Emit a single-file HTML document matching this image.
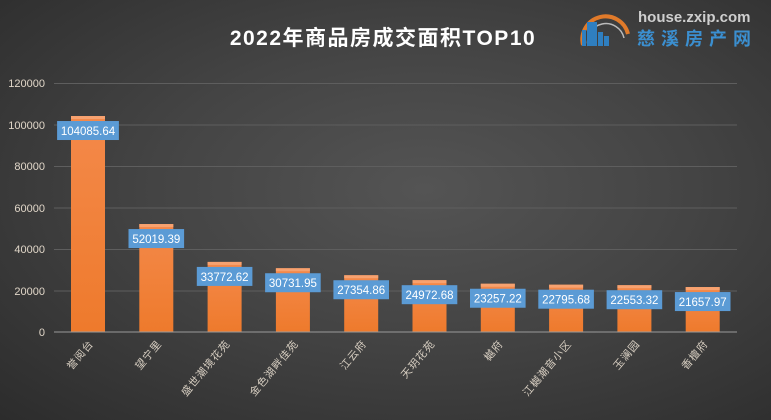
<!DOCTYPE html>
<html><head><meta charset="utf-8"><style>
html,body{margin:0;padding:0;width:771px;height:420px;overflow:hidden}
body{background:radial-gradient(ellipse at 55% 45%,#545454 0%,#444 45%,#2c2c2c 100%);font-family:"Liberation Sans","Noto Sans CJK SC",sans-serif}
</style></head><body>
<svg width="771" height="420" xmlns="http://www.w3.org/2000/svg" style="position:absolute;left:0;top:0">
<defs><linearGradient id="bg" x1="0" y1="0" x2="0" y2="1"><stop offset="0" stop-color="#f4894a"/><stop offset="1" stop-color="#ee7a2c"/></linearGradient></defs>
<text x="383" y="45" fill="#fff" font-size="21" font-weight="bold" letter-spacing="1.5" text-anchor="middle" font-family="Liberation Sans,Noto Sans CJK SC,sans-serif">2022年商品房成交面积TOP10</text>
<g stroke="#5e5e5e" stroke-width="1">
<line x1="54" x2="737" y1="83.5" y2="83.5"/><line x1="54" x2="737" y1="125" y2="125"/><line x1="54" x2="737" y1="166.5" y2="166.5"/><line x1="54" x2="737" y1="208" y2="208"/><line x1="54" x2="737" y1="249.5" y2="249.5"/><line x1="54" x2="737" y1="291" y2="291"/>
</g>
<g fill="#e0d6c8" font-size="11" text-anchor="end">
<text x="45" y="87">120000</text><text x="45" y="129">100000</text><text x="45" y="170">80000</text><text x="45" y="212">60000</text><text x="45" y="253">40000</text><text x="45" y="295">20000</text><text x="45" y="336">0</text>
</g>
<g id="bars"></g>
<line x1="54" x2="737" y1="332" y2="332" stroke="#9a9a9a" stroke-width="1"/>
<path d="M583 45 A22 22 0 0 1 628 34" fill="none" stroke="#e07a2a" stroke-width="4"/>
<path d="M588 46 A18 18 0 0 1 624 38" fill="none" stroke="#bbb" stroke-width="1.5"/>
<rect x="582" y="30" width="4" height="16" fill="#2f7fc0"/><rect x="587" y="22" width="10" height="24" fill="#2f7fc0"/><rect x="598" y="32" width="5" height="14" fill="#2f7fc0"/><rect x="604" y="36" width="5" height="10" fill="#2f7fc0"/>
<text x="638" y="22" fill="#cfcfcf" font-size="15" font-weight="bold">house.zxip.com</text>
<text x="637" y="45" fill="#3b8fd0" font-size="18" font-weight="bold" letter-spacing="6" font-family="Noto Sans CJK SC,sans-serif">慈溪房产网</text>
</svg>
<script>
var d=[["誉阅台",104085.64],["望宁里",52019.39],["盛世潮境花苑",33772.62],["金色湖畔佳苑",30731.95],["江云府",27354.86],["天玥花苑",24972.68],["樾府",23257.22],["江樾潮音小区",22795.68],["玉澜园",22553.32],["香檀府",21657.97]];
var s='';
d.forEach(function(e,i){var cx=88+i*68.3,h=e[1]*41.5/20000,y=332-h;
s+='<rect x="'+(cx-17)+'" y="'+y+'" width="34" height="'+h+'" fill="url(#bg)"/>';
s+='<rect x="'+(cx-17)+'" y="'+y+'" width="34" height="3" fill="#f7a270"/>';
var t=e[1].toFixed(2).replace(/0$/,'');var w=t.length*6.2+6;
s+='<rect x="'+(cx-w/2)+'" y="'+(y+5)+'" width="'+w+'" height="19" fill="#5b9bd5"/>';
s+='<text x="'+cx+'" y="'+(y+19)+'" fill="#fff" font-size="11.5" text-anchor="middle">'+t+'</text>';
s+='<text transform="translate('+(cx+6)+',344) rotate(-50)" fill="#d8cfc2" font-size="10.5" letter-spacing="1" text-anchor="end" font-family="Noto Sans CJK SC,sans-serif">'+e[0]+'</text>';});
document.getElementById('bars').innerHTML=s;
</script>
</body></html>
